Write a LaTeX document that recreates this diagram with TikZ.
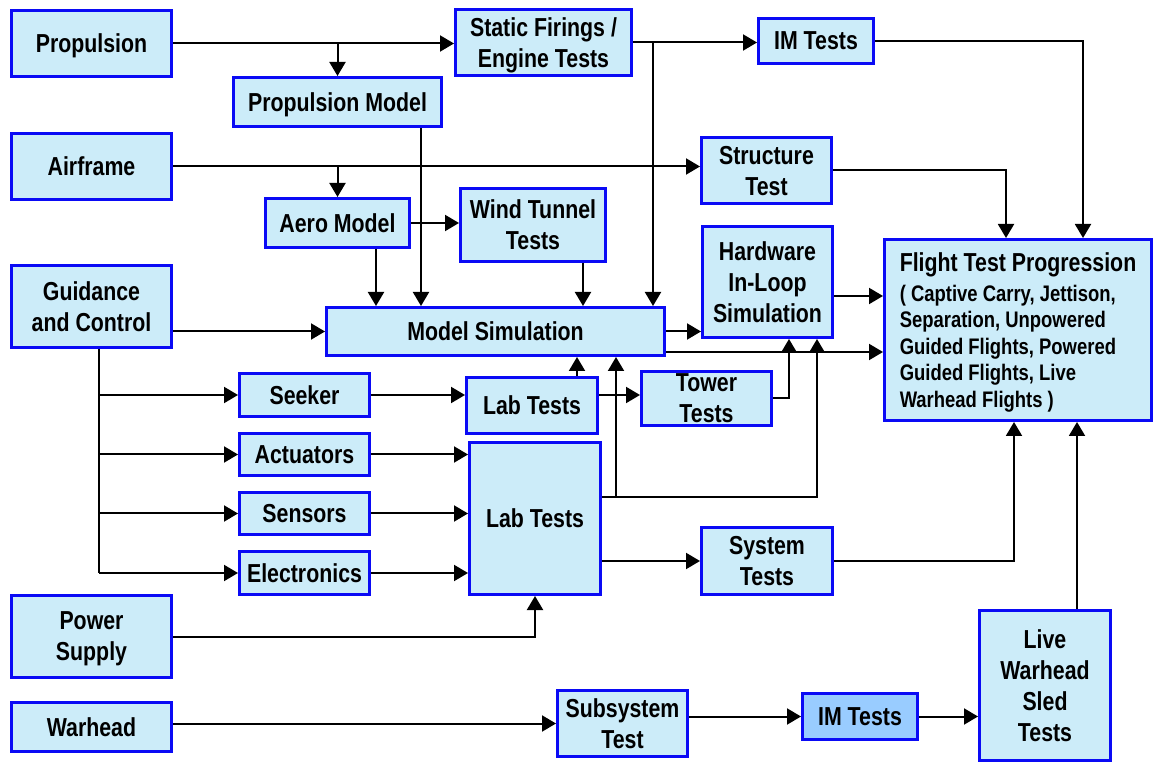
\documentclass[tikz,border=0pt]{standalone}
\usepackage{fontspec}
\setmainfont{Liberation Sans}[FakeStretch=0.82]
\usetikzlibrary{arrows.meta,positioning}
\definecolor{boxfill}{HTML}{CCECF9}
\definecolor{boxline}{HTML}{0A0AF5}
\definecolor{imfill}{HTML}{99CCFF}
\tikzset{
	blk/.style={draw=boxline, fill=boxfill, line width=1.5pt, align=center, inner sep=0pt,
		text depth=0pt, font=\bfseries\fontsize{13}{15.5}\selectfont},
	arr/.style={-{Triangle[length=7pt,width=8pt]}, line width=1pt},
}
\begin{document}
\begin{tikzpicture}[x=0.5pt,y=-0.5pt]
	\useasboundingbox (0,0) rectangle (1155,763);
	\node[blk, minimum width=80pt, minimum height=33pt] (1) at (91.5,43.5) {Propulsion};
	\node[blk, minimum width=80pt, minimum height=33pt] (2) at (91.5,166.5) {Airframe};
	\node[blk, minimum width=80pt, minimum height=41pt] (3) at (91.5,306.5) {Guidance\\and Control};
	\node[blk, minimum width=80pt, minimum height=41pt] (4) at (91.5,636.5) {Power\\Supply};
	\node[blk, minimum width=80pt, minimum height=24.5pt] (5) at (91.5,727) {Warhead};
	\node[blk, minimum width=104pt, minimum height=24.5pt] (6) at (337.5,102) {Propulsion Model};
	\node[blk, minimum width=72pt, minimum height=24.5pt] (7) at (337.5,223) {Aero Model};
	\node[blk, minimum width=88pt, minimum height=33pt] (8) at (543.5,42.5) {Static Firings /\\Engine Tests};
	\node[blk, minimum width=57.5pt, minimum height=22.5pt] (9) at (816,41) {IM Tests};
	\node[blk, minimum width=72.5pt, minimum height=36.5pt] (10) at (533,225) {Wind Tunnel\\Tests};
	\node[blk, minimum width=65pt, minimum height=33pt] (11) at (766.5,170.5) {Structure\\Test};
	\node[blk, minimum width=65pt, minimum height=55.5pt] (12) at (767.5,282) {Hardware\\In-Loop\\Simulation};
	\node[blk, minimum width=169pt, minimum height=24pt] (13) at (495.5,331.5) {Model Simulation};
	\node[blk, minimum width=133.5pt, minimum height=90.5pt, align=left,
		font=\bfseries\fontsize{11.25}{13.3}\selectfont] (14) at (1018,330)
		{{\fontsize{13}{15.5}\selectfont Flight Test Progression}\\[1.5pt]
		( Captive Carry, Jettison,\\Separation, Unpowered\\Guided Flights, Powered\\Guided Flights, Live\\Warhead Flights )};
	\node[blk, minimum width=65pt, minimum height=21.5pt] (15) at (304.5,395) {Seeker};
	\node[blk, minimum width=65pt, minimum height=21pt] (16) at (304.5,454.5) {Actuators};
	\node[blk, minimum width=65pt, minimum height=21pt] (17) at (304.5,513.5) {Sensors};
	\node[blk, minimum width=65pt, minimum height=21.5pt] (18) at (304.5,573) {Electronics};
	\node[blk, minimum width=65.5pt, minimum height=28pt] (19) at (532,405.5) {Lab Tests};
	\node[blk, minimum width=65.5pt, minimum height=76pt] (20) at (535,518.5) {Lab Tests};
	\node[blk, minimum width=65pt, minimum height=27pt] (21) at (706.5,398.5) {Tower\\Tests};
	\node[blk, minimum width=65.5pt, minimum height=33.5pt] (22) at (767,561) {System\\Tests};
	\node[blk, minimum width=65pt, minimum height=33pt] (23) at (622.5,723.5) {Subsystem\\Test};
	\node[blk, fill=imfill, minimum width=57.5pt, minimum height=23pt] (24) at (860,716.5) {IM Tests};
	\node[blk, minimum width=65.5pt, minimum height=75pt] (25) at (1045,685.5) {Live\\Warhead\\Sled\\Tests};

	% bend points
	\coordinate (a) at (653,42.5);
	\coordinate (b) at (1083,0);
	\coordinate (c) at (1006,0);
	\coordinate (d) at (376,0);
	\coordinate (e) at (421,0);
	\coordinate (g) at (583,0);
	\coordinate (h) at (0,296);
	\coordinate (i) at (0,352);
	\coordinate (j) at (99,0);
	\coordinate (k) at (577,0);
	\coordinate (l) at (789,0);
	\coordinate (m) at (0,497);
	\coordinate (n) at (616,0);
	\coordinate (o) at (817,0);
	\coordinate (p) at (1014,0);
	\coordinate (r) at (1077,0);

	\draw[arr] (1.east) -- (1.east -| 8.west);
	\draw[arr] (6.north |- 1.east) -- (6.north);
	\draw[arr] (8.east) -- (8.east -| 9.west);
	\draw[arr] (a) -- (a |- 13.north);
	\draw[arr] (9.east) -| (b |- 14.north);
	\draw[arr] (2.east) -- (2.east -| 11.west);
	\draw[arr] (7.north |- 2.east) -- (7.north);
	\draw[arr] (11.east) -| (c |- 14.north);
	\draw[arr] (7.east) -- (7.east -| 10.west);
	\draw[arr] (d |- 7.south) -- (d |- 13.north);
	\draw[arr] (e |- 6.south) -- (e |- 13.north);
	\draw[arr] (g |- 10.south) -- (g |- 13.north);
	\draw[arr] (13.west -| 3.east) -- (13.west);
	\draw[arr] (13.east) -- (13.east -| 12.west);
	\draw[arr] (h -| 12.east) -- (h -| 14.west);
	\draw[arr] (i -| 13.east) -- (i -| 14.west);

	\draw[line width=1pt] (j |- 3.south) -- (j |- 18.west);
	\draw[arr] (j |- 15.west) -- (15.west);
	\draw[arr] (j |- 16.west) -- (16.west);
	\draw[arr] (j |- 17.west) -- (17.west);
	\draw[arr] (j |- 18.west) -- (18.west);
	\draw[arr] (15.east) -- (15.east -| 19.west);
	\draw[arr] (16.east) -- (16.east -| 20.west);
	\draw[arr] (17.east) -- (17.east -| 20.west);
	\draw[arr] (18.east) -- (18.east -| 20.west);

	\draw[arr] (k |- 19.north) -- (k |- 13.south);
	\draw[arr] (15.east -| 19.east) -- (15.east -| 21.west);
	\draw[arr] (21.east) -| (l |- 12.south);
	\draw[arr] (m -| 20.east) -| (o |- 12.south);
	\draw[arr] (n |- m) -- (n |- 13.south);
	\draw[arr] (22.west -| 20.east) -- (22.west);
	\draw[arr] (22.east) -| (p |- 14.south);
	\draw[arr] (4.east) -| (20.south);
	\draw[arr] (23.west -| 5.east) -- (23.west);
	\draw[arr] (24.west -| 23.east) -- (24.west);
	\draw[arr] (24.east) -- (24.east -| 25.west);
	\draw[arr] (r |- 25.north) -- (r |- 14.south);
\end{tikzpicture}
\end{document}
